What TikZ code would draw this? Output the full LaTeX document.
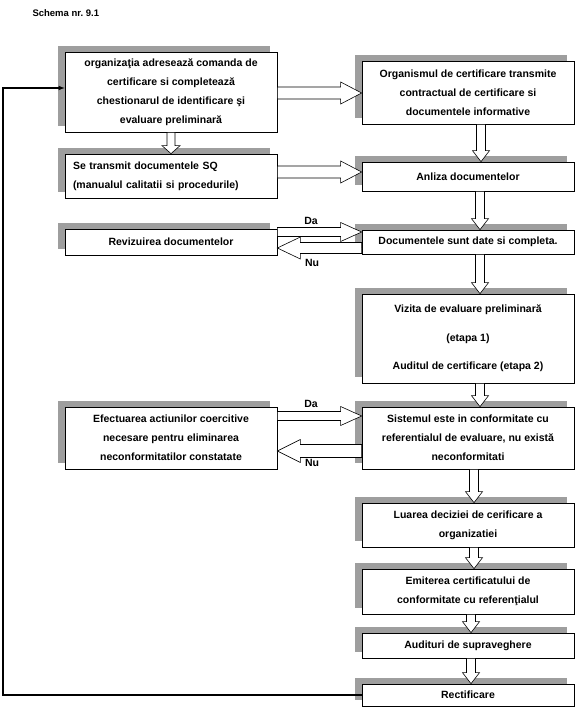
\documentclass[tikz,border=0pt]{standalone}
\usepackage{fontspec}
\setmainfont{Liberation Sans}
\usetikzlibrary{positioning,calc,shadows}

\begin{document}
\begin{tikzpicture}[x=1pt, y=-1pt,
  every node/.style={font=\bfseries\fontsize{10.5}{19}\selectfont},
  box/.style={rectangle, draw, fill=white, line width=0.7pt, minimum width=212pt,
              align=center, inner sep=2pt,
              general shadow={fill=black!38, shadow xshift=-7pt, shadow yshift=6pt}},
  lbox/.style={box, text width=196pt, align=left},
  lbl/.style={inner sep=0pt},
  fbline/.style={line width=1.1pt, -latex},
  blk shaft/.store in=\blkshaft, blk head/.store in=\blkhead, blk len/.store in=\blklen,
  blk shaft=6pt, blk head=11pt, blk len=21pt,
  blk/.style={draw, fill=white, line width=0.6pt, to path={
    let \p1=(\tikztostart), \p2=(\tikztotarget),
        \n1={atan2(\y2-\y1,\x2-\x1)},
        \n2={veclen(\x2-\x1,\y2-\y1)-\blklen} in
    ($(\p1)+(\n1+90:\blkshaft)$) -- ($(\p1)+(\n1:{\n2*1pt})+(\n1+90:\blkshaft)$)
    -- ($(\p1)+(\n1:{\n2*1pt})+(\n1+90:\blkhead)$) -- (\p2)
    -- ($(\p1)+(\n1:{\n2*1pt})+(\n1-90:\blkhead)$)
    -- ($(\p1)+(\n1:{\n2*1pt})+(\n1-90:\blkshaft)$)
    -- ($(\p1)+(\n1-90:\blkshaft)$) -- cycle}},
  vblk/.style={blk, blk shaft=4.5pt, blk head=8.5pt, blk len=11pt}
]
\useasboundingbox (0,0) rectangle (575,707);

\node[font=\bfseries\fontsize{9.5}{11}\selectfont, anchor=west] (title) at (29,13) {Schema nr.\ 9.1};

% Left column: request, documents, corrections.
\node[box, minimum height=80pt] (B1) at (171,92)
  {organizaţia adresează comanda de\\certificare si completează\\chestionarul de identificare şi\\evaluare preliminară};
\node[lbox, minimum height=44pt] (B2) at (171,176)
  {Se transmit documentele SQ\\(manualul calitatii si procedurile)};
\node[box, minimum height=26pt] (Rev) at (171,242) {Revizuirea documentelor};
\node[box, minimum height=62pt] (Ef) at (171,438)
  {Efectuarea actiunilor coercitive\\necesare pentru eliminarea\\neconformitatilor constatate};

% Right column: the certification body's steps.
\node[box, minimum height=63pt] (R1) at (468,92.5)
  {Organismul de certificare transmite\\contractual de certificare si\\documentele informative};
\node[box, minimum height=29pt] (R2) at (468,176.5) {Anliza documentelor};
\node[box, minimum height=24pt] (R3) at (468,242) {Documentele sunt date si completa.};
\node[box, minimum height=89pt] (R4) at (468,338.5)
  {Vizita de evaluare preliminară\\[9.5pt](etapa 1)\\[9.5pt]Auditul de certificare (etapa 2)};
\node[box, minimum height=62pt] (R5) at (468,438)
  {Sistemul este in conformitate cu\\referentialul de evaluare, nu există\\neconformitati};
\node[box, minimum height=44pt] (R6) at (468,525) {Luarea deciziei de cerificare a\\organizatiei};
\node[box, minimum height=45pt] (R7) at (468,591.5) {Emiterea certificatului de\\conformitate cu referenţialul};
\node[box, minimum height=25pt] (R8) at (468,645.5) {Audituri de supraveghere};
\node[box, minimum height=22pt] (R9) at (468,695) {Rectificare};

\node[lbl] (da1) at (311,221) {Da};
\node[lbl] (nu1) at (312,263) {Nu};
\node[lbl] (da2) at (311,404) {Da};
\node[lbl] (nu2) at (312,463) {Nu};

% Block arrows between the columns.
\draw[blk] (B1.east |- 0,93) to (R1.west |- 0,93);
\draw[blk] (B2.east |- 0,172) to (R2.west |- 0,172);
\draw[blk, blk shaft=4.5pt, blk head=9.5pt] (Rev.east |- 0,232) to (R3.west |- 0,232);
\draw[blk, blk shaft=5.5pt, blk len=23pt] (R3.west |- 0,248) to (Rev.east |- 0,248);
\draw[blk, blk shaft=4.5pt, blk head=9.5pt] (Ef.east |- 0,416) to (R5.west |- 0,416);
\draw[blk, blk shaft=6.5pt, blk head=11.5pt, blk len=23pt] (R5.west |- 0,451) to (Ef.east |- 0,451);

% Block arrows down the columns.
\draw[vblk, blk shaft=4pt, blk head=9pt, blk len=8pt] (B1.south) to (B2.north);
\foreach \a/\b/\ax in {R1/R2/481, R2/R3/480, R3/R4/480, R4/R5/480,
                       R5/R6/474, R6/R7/474, R7/R8/471, R8/R9/471}
  \draw[vblk] (\a.south -| \ax,0) to (\b.north -| \ax,0);

% Loop back from rectification to the request.
\coordinate (fb) at (3,88);
\draw[fbline] (R9.west) -| (fb) -- (B1.west |- fb);

\end{tikzpicture}
\end{document}
